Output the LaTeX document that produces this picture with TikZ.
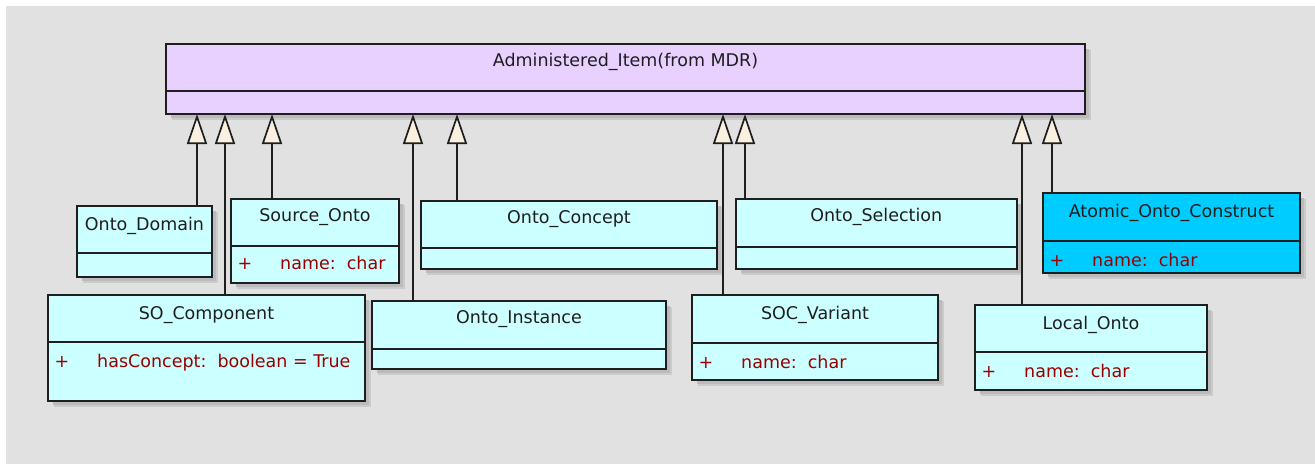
\documentclass[tikz,border=0pt]{standalone}
\usepackage{fontspec}
\setmainfont{DejaVu Sans}
\usetikzlibrary{arrows.meta}

\definecolor{canvas}{HTML}{E1E1E1}
\definecolor{shadowA}{HTML}{CBCBCB}
\definecolor{shadowB}{HTML}{BBBBBB}
\definecolor{lilac}{HTML}{E8D0FF}
\definecolor{paleaqua}{HTML}{CCFFFF}
\definecolor{skyblue}{HTML}{00CCFF}
\definecolor{cream}{HTML}{FAF0E0}
\definecolor{attrred}{HTML}{990000}
\definecolor{ink}{HTML}{1E1E1E}

\tikzset{
  classbox/.style={draw=ink, line width=2pt, inner sep=0pt, outer sep=0pt, anchor=north west},
  divider/.style={draw=ink, line width=1.6pt},
  classtitle/.style={font=\fontsize{17.5}{20}\selectfont, text=ink, anchor=base, inner sep=0pt},
  attrtext/.style={font=\fontsize{17.5}{20}\selectfont, text=attrred, anchor=base west, inner sep=0pt},
  gen/.style={draw=ink, line width=2pt,
    -{Triangle[length=30pt, width=20pt, fill=cream, line width=1.7pt]}},
}

% UML class: name, left, top, right, bottom, divider y, fill, title baseline, title
\newcommand\umlclass[9]{%
  \fill[shadowA] ({#2+6},{#3+6}) rectangle ({#4+6},{#5+6});
  \fill[shadowB] ({#2+5},{#3+5}) rectangle ({#4+4},{#5+4});
  \node[classbox, fill=#7, minimum width={#4-#2}, minimum height={#5-#3}] (#1) at (#2,#3) {};
  \draw[divider] (#2,#6) -- (#4,#6);
  \node[classtitle] (#1-title) at ({(#2+#4)/2},#8) {#9};
}

% public attribute line: name, class left edge, baseline, text
\newcommand\umlattr[4]{%
  \node[attrtext] (#1-plus) at ({#2+6.5},#3) {+};
  \node[attrtext] (#1) at ({#2+49},#3) {#4};
}

\begin{document}
\begin{tikzpicture}[x=1pt, y=-1pt]
  \useasboundingbox (0,0) rectangle (1315,464);
  \fill[white] (0,0) rectangle (1315,464);
  \fill[canvas] (6,6) rectangle (1315,464);

  % classes
  \umlclass{adm}{166}{44}{1085}{114}{91}{lilac}{66.5}{Administered\_Item(from MDR)}
  \umlclass{dom}{77}{206}{212}{276.5}{253}{paleaqua}{230.5}{Onto\_Domain}
  \umlclass{src}{231}{199}{399}{283}{246}{paleaqua}{221}{Source\_Onto}
  \umlattr{src-name}{231}{269}{name:~~char}
  \umlclass{soc}{48}{295}{365}{401}{342}{paleaqua}{319}{SO\_Component}
  \umlattr{soc-has}{48}{367.5}{hasConcept:~~boolean = True}
  \umlclass{con}{421}{201}{717}{269}{248}{paleaqua}{223}{Onto\_Concept}
  \umlclass{ins}{372}{301}{666}{369}{349}{paleaqua}{323}{Onto\_Instance}
  \umlclass{sel}{736}{199}{1016.5}{269}{247}{paleaqua}{221.5}{Onto\_Selection}
  \umlclass{var}{692}{295}{938}{380}{343}{paleaqua}{319}{SOC\_Variant}
  \umlattr{var-name}{692}{368}{name:~~char}
  \umlclass{ato}{1043}{193}{1300}{273}{241}{skyblue}{217.5}{Atomic\_Onto\_Construct}
  \umlattr{ato-name}{1043}{266}{name:~~char}
  \umlclass{loc}{975}{305}{1207}{389.5}{352}{paleaqua}{329}{Local\_Onto}
  \umlattr{loc-name}{975}{377}{name:~~char}

  % x positions of the generalisation lines
  \coordinate (kdom) at (197,0);
  \coordinate (ksoc) at (225,0);
  \coordinate (ksrc) at (272,0);
  \coordinate (kins) at (413,0);
  \coordinate (kcon) at (457,0);
  \coordinate (kvar) at (723,0);
  \coordinate (ksel) at (745,0);
  \coordinate (kloc) at (1022,0);
  \coordinate (kato) at (1052,0);

  % generalisations
  \foreach \c in {dom,soc,src,ins,con,var,sel,loc,ato}
    \draw[gen] (\c.north -| k\c) -- (adm.south -| k\c);
\end{tikzpicture}
\end{document}
